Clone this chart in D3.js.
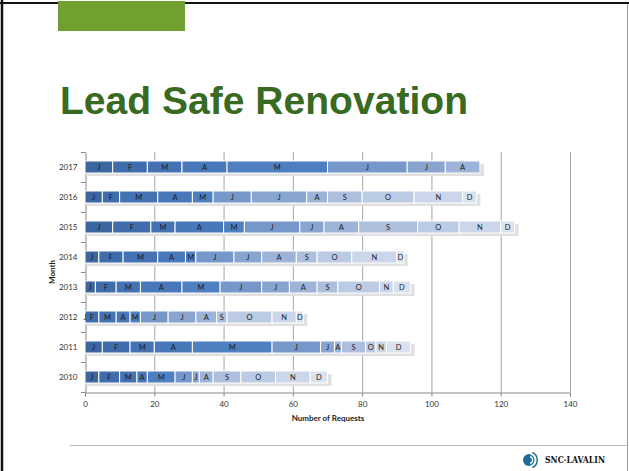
<!DOCTYPE html>
<html>
<head>
<meta charset="utf-8">
<script src="https://cdn.jsdelivr.net/npm/d3@7"></script>
<style>
  html, body { margin: 0; padding: 0; background: #fff; }
  svg { display: block; }
</style>
</head>
<body>
<div class="slide"></div>
<script>
// requests per month, stacked per year
const years = ['2010', '2011', '2012', '2013', '2014', '2015', '2016', '2017'];
const months = ['J', 'F', 'M', 'A', 'M', 'J', 'J', 'A', 'S', 'O', 'N', 'D'];

const y2010 = [4, 6, 5, 3, 8, 5, 2, 4, 8, 10, 10, 5];
const y2011 = [5, 8, 7, 11, 23, 14, 4, 2, 7, 3, 3, 7];
const y2012 = [0, 4, 5, 4, 3, 8, 8, 6, 3, 13, 7, 2];
const y2013 = [3, 6, 7, 12, 11, 12, 8, 8, 6, 12, 4, 5];
const y2014 = [4, 7, 10, 8, 3, 11, 8, 10, 6, 10, 13, 2];
const y2015 = [8, 11, 7, 14, 6, 16, 7, 10, 17, 12, 12, 4];
const y2016 = [5, 5, 11, 10, 6, 11, 16, 6, 10, 15, 14, 4];
const y2017 = [8, 10, 10, 13, 29, 23, 11, 10];

const xTicks = [0, 20, 40, 60, 80, 100, 120, 140];

const series = [y2010, y2011, y2012, y2013, y2014, y2015, y2016, y2017];
const palette = ['#3c669f', '#406cab', '#4472b3', '#4878ba', '#4d7fc1', '#7597c9',
                 '#88a5cf', '#9db4d8', '#aebfde', '#bccbe4', '#cbd6ea', '#dae2f0'];

const W = 629, H = 471;
const svg = d3.select('.slide').append('svg')
    .attr('width', W)
    .attr('height', H);

// slide frame
svg.append('rect').attr('x', 0).attr('y', 0).attr('width', W).attr('height', H).attr('fill', '#fff');
svg.append('line').attr('x1', 0).attr('x2', W).attr('y1', 3).attr('y2', 3)
    .attr('stroke', '#111').attr('stroke-width', 2);
svg.append('line').attr('x1', 2).attr('x2', 2).attr('y1', 0).attr('y2', H)
    .attr('stroke', '#111').attr('stroke-width', 2.5);
svg.append('line').attr('x1', 627.5).attr('x2', 627.5).attr('y1', 4).attr('y2', H)
    .attr('stroke', '#999').attr('stroke-width', 1);
svg.append('rect').attr('x', 58).attr('y', 1).attr('width', 127).attr('height', 30)
    .attr('fill', '#6fa030');

svg.append('text')
    .attr('x', 60).attr('y', 114)
    .attr('font-family', 'Liberation Sans, Arial, sans-serif')
    .attr('font-weight', 'bold')
    .attr('font-size', 39)
    .attr('textLength', 408)
    .attr('lengthAdjust', 'spacingAndGlyphs')
    .attr('fill', '#386a1f')
    .text('Lead Safe Renovation');

// chart
const x = d3.scaleLinear().domain([0, 140]).range([85, 570]);
const y = d3.scaleBand().domain(years.slice().reverse()).range([152, 392]).paddingInner(0.6).paddingOuter(0.3);
const band = d3.scaleBand().domain(years.slice().reverse()).range([152, 392]);

const font = 'Lato, Open Sans, sans-serif';

// gridlines
svg.append('g')
    .selectAll('line')
    .data(xTicks.slice(1))
    .join('line')
        .attr('x1', d => x(d) + 0.5).attr('x2', d => x(d) + 0.5)
        .attr('y1', 152).attr('y2', 392)
        .attr('stroke', '#a6a6a6');

// x axis
const xAxis = svg.append('g')
    .attr('transform', 'translate(0,392.5)')
    .call(d3.axisBottom(x).tickValues(xTicks).tickSize(4).tickPadding(5));
xAxis.select('.domain').attr('stroke', '#888');
xAxis.selectAll('.tick line').attr('stroke', '#888');
xAxis.selectAll('text').attr('font-family', font).attr('font-size', 8).attr('fill', '#333');

// y axis
const yAxis = svg.append('g')
    .attr('transform', 'translate(85.5,0)')
    .call(d3.axisLeft(band).tickSize(0).tickPadding(8));
yAxis.select('.domain').attr('stroke', '#888');
yAxis.selectAll('text').attr('font-family', font).attr('font-size', 8).attr('fill', '#333');
svg.append('g')
    .selectAll('line')
    .data(d3.range(years.length + 1))
    .join('line')
        .attr('x1', 81).attr('x2', 85.5)
        .attr('y1', i => 152 + i * band.bandwidth() + 0.5)
        .attr('y2', i => 152 + i * band.bandwidth() + 0.5)
        .attr('stroke', '#888');

// bars
const rows = svg.append('g')
    .selectAll('g')
    .data(series.map((vals, i) => {
        const ends = d3.cumsum(vals);
        return {
            year: years[i],
            total: ends[ends.length - 1],
            segs: vals.map((v, j) => ({ m: months[j], j, x0: ends[j] - v, x1: ends[j] }))
        };
    }))
    .join('g')
        .attr('transform', d => `translate(0,${y(d.year)})`);

rows.append('rect')
    .attr('x', x(0) + 1)
    .attr('y', 3)
    .attr('width', d => x(d.total) - x(0) + 3)
    .attr('height', y.bandwidth())
    .attr('fill', '#e0e0e0');

rows.selectAll('rect.seg')
    .data(d => d.segs)
    .join('rect')
        .attr('class', 'seg')
        .attr('x', d => x(d.x0))
        .attr('y', 0)
        .attr('width', d => Math.max(0, x(d.x1) - x(d.x0)))
        .attr('height', y.bandwidth())
        .attr('fill', d => palette[d.j])
        .attr('stroke', '#fff')
        .attr('stroke-width', 1);

rows.selectAll('text')
    .data(d => d.segs)
    .join('text')
        .attr('x', d => (x(d.x0) + x(d.x1)) / 2)
        .attr('y', y.bandwidth() / 2 + 3)
        .attr('text-anchor', 'middle')
        .attr('font-family', font)
        .attr('font-size', 7.5)
        .attr('fill', '#1a1a1a')
        .text(d => d.m);

// axis titles
svg.append('text')
    .attr('x', 328).attr('y', 421)
    .attr('text-anchor', 'middle')
    .attr('font-family', font).attr('font-weight', 'bold').attr('font-size', 8)
    .attr('fill', '#222')
    .text('Number of Requests');

svg.append('text')
    .attr('transform', 'translate(55,272) rotate(-90)')
    .attr('text-anchor', 'middle')
    .attr('font-family', font).attr('font-weight', 'bold').attr('font-size', 8)
    .attr('fill', '#222')
    .text('Month');

// footer
svg.append('line').attr('x1', 70).attr('x2', 627).attr('y1', 445.5).attr('y2', 445.5)
    .attr('stroke', '#bbb');

const logo = svg.append('g').attr('transform', 'translate(529,460)');
logo.append('circle').attr('r', 6).attr('fill', '#1f6d9c');
[3, 5.5, 8].forEach(r => {
    logo.append('path')
        .attr('d', d3.arc().innerRadius(r).outerRadius(r + 1.2).startAngle(0.3).endAngle(Math.PI - 0.3)())
        .attr('fill', '#fff');
});
logo.append('path')
    .attr('d', d3.arc().innerRadius(7.5).outerRadius(9).startAngle(0.4).endAngle(Math.PI - 0.4)())
    .attr('fill', '#1f6d9c');
svg.append('text')
    .attr('x', 545).attr('y', 463)
    .attr('font-family', 'DejaVu Serif, serif').attr('font-weight', 'bold').attr('font-size', 8.5)
    .attr('textLength', 60).attr('lengthAdjust', 'spacingAndGlyphs')
    .attr('fill', '#111')
    .text('SNC·LAVALIN');
</script>
</body>
</html>
